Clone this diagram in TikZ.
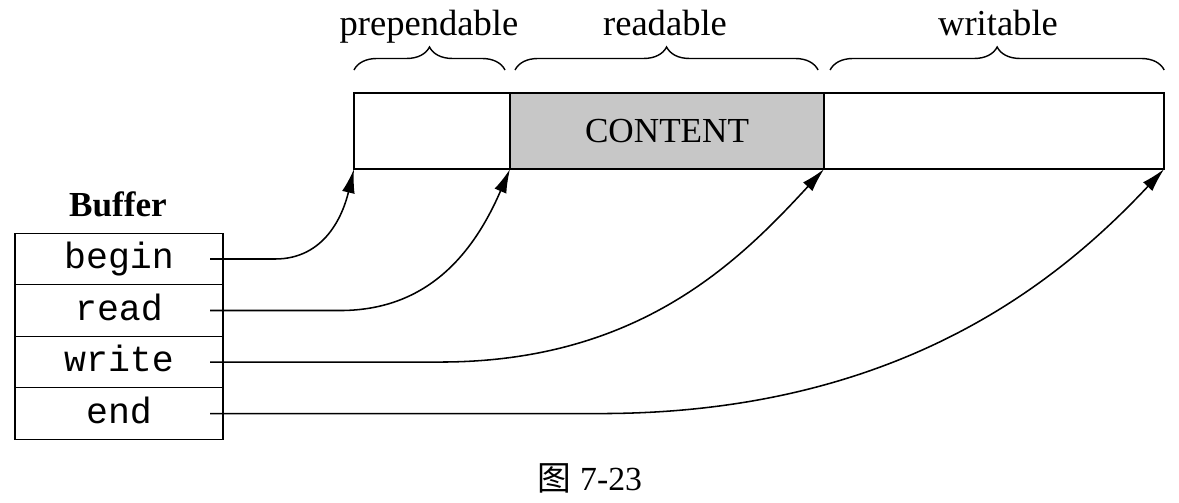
\documentclass[tikz,border=0pt]{standalone}
\usepackage{fontspec}
\setmainfont{Liberation Serif}
\setmonofont{Liberation Mono}
\newfontfamily\cjk{Noto Sans CJK SC}
\usetikzlibrary{positioning}
\usetikzlibrary{arrows.meta}
\usetikzlibrary{decorations.pathreplacing}

\tikzset{
  cell/.style={draw, line width=1.3pt, minimum height=1.9cm, inner sep=0pt, outer sep=0pt},
  slot/.style={draw, line width=1pt, minimum width=5.2cm, minimum height=1.2875cm,
    inner sep=0pt, outer sep=0pt, font=\fontsize{26}{30}\selectfont\ttfamily,
    text height=17pt, text depth=3pt},
  lbl/.style={font=\fontsize{26}{30}\selectfont, anchor=base},
  ptr/.style={line width=1.1pt, -{Latex[length=0.6cm,width=0.32cm]}},
  brc/.style={line width=1pt, decorate, decoration={brace, amplitude=0.575cm}}
}

\begin{document}
\begin{tikzpicture}[x=0.025cm, y=-0.025cm]
	\useasboundingbox (0,0) rectangle (1179,502);
	% the buffer area
	\node[cell, minimum width=3.9cm] (prep) at (432,131) {};
	\node[cell, minimum width=7.85cm, right=0pt of prep, fill=black!22,
	  font=\fontsize{25}{30}\selectfont] (cont) {CONTENT};
	\node[cell, minimum width=8.5cm, right=0pt of cont] (writ) {};
	\draw[brc] ([yshift=0.575cm]prep.north west) -- ([xshift=-0.125cm, yshift=0.575cm]prep.north east);
	\draw[brc] ([xshift=0.125cm, yshift=0.575cm]cont.north west) -- ([xshift=-0.15cm, yshift=0.575cm]cont.north east);
	\draw[brc] ([xshift=0.15cm, yshift=0.575cm]writ.north west) -- ([yshift=0.575cm]writ.north east);
	\node[lbl] (lprep) at (429,35) {prependable};
	\node[lbl] (lread) at (665,35) {readable};
	\node[lbl] (lwrit) at (998,35) {writable};
	% the Buffer object
	\node[lbl, font=\fontsize{25}{30}\selectfont\bfseries] (buf) at (118,216) {Buffer};
	\node[slot] (sbegin) at (119,259) {begin};
	\node[slot, below=0pt of sbegin] (sread) {read};
	\node[slot, below=0pt of sread] (swrite) {write};
	\node[slot, below=0pt of swrite] (send) {end};
	\coordinate (b0) at ([xshift=-0.325cm]sbegin.east);
	\coordinate (r0) at ([xshift=-0.325cm]sread.east);
	\coordinate (w0) at ([xshift=-0.325cm]swrite.east);
	\coordinate (e0) at ([xshift=-0.325cm]send.east);
	\draw[ptr] (b0) -- ++(65,0) .. controls +(50,0) and +(-11,46) .. (prep.south west);
	\draw[ptr] (r0) -- ++(130,0) .. controls +(90,0) and +(-35,81) .. (prep.south east);
	\draw[ptr] (w0) -- ++(230,0) .. controls +(200,0) and +(-84,91) .. (cont.south east);
	\draw[ptr] (e0) -- ++(390,0) .. controls +(300,0) and +(-104,111) .. (writ.south east);
	\node[font=\fontsize{24}{28}\selectfont] (cap) at (590,478) {{\cjk 图} 7-23};
\end{tikzpicture}
\end{document}
